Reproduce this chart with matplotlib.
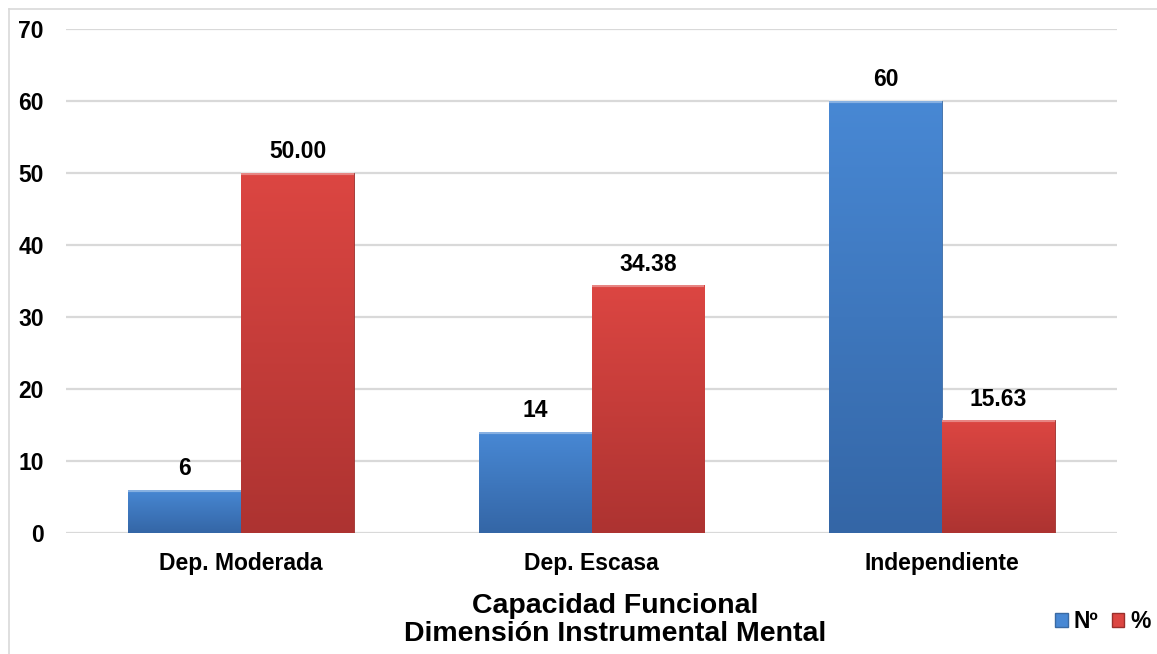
import numpy as np
import matplotlib
matplotlib.use("Agg")
import matplotlib.pyplot as plt
from matplotlib.colors import LinearSegmentedColormap
from matplotlib.patches import Patch
from matplotlib.lines import Line2D

categories = ["Dep. Moderada", "Dep. Escasa", "Independiente"]
numero = [6, 14, 60]
porcentaje = [50.00, 34.38, 15.63]
numero_labels = ["6", "14", "60"]
porcentaje_labels = ["50.00", "34.38", "15.63"]
yticks = [0, 10, 20, 30, 40, 50, 60, 70]

plt.rcParams['font.family'] = ['Liberation Sans', 'DejaVu Sans']
plt.rcParams['font.weight'] = 'bold'

W, H = 1157, 654
fig = plt.figure(figsize=(W / 100, H / 100), dpi=100)
ax = fig.add_axes([66 / W, 1 - 533 / H, (1117 - 66) / W, (533 - 29) / H])

blue_top, blue_bot = "#4888d4", "#3466a6"
red_top, red_bot = "#dc4642", "#ad3331"

x = np.arange(len(categories))
w = 0.322
b1 = ax.bar(x - w / 2, numero, w, color=blue_top, edgecolor="#3a6aa3", linewidth=0.6, zorder=3)
b2 = ax.bar(x + w / 2, porcentaje, w, color=red_top, edgecolor="#9a2f2c", linewidth=0.6, zorder=3)

# vertical gradient inside each bar
def shade(bars, top, bot):
    cmap = LinearSegmentedColormap.from_list("g", [bot, top])
    grad = np.linspace(0, 1, 256).reshape(-1, 1)
    for p in bars:
        x0, y0 = p.get_x(), p.get_y()
        im = ax.imshow(grad, cmap=cmap, aspect="auto", origin="lower",
                       extent=[x0, x0 + p.get_width(), y0, y0 + p.get_height()],
                       zorder=3.5)
        im.set_clip_path(p)
        # light bevel along the top edge
        ax.plot([x0, x0 + p.get_width()], [y0 + p.get_height()] * 2,
                color="white", alpha=0.35, lw=3, zorder=3.6, solid_capstyle="butt")

shade(b1, blue_top, blue_bot)
shade(b2, red_top, red_bot)

for bars, labels in ((b1, numero_labels), (b2, porcentaje_labels)):
    for p, lab in zip(bars, labels):
        ax.annotate(lab, (p.get_x() + p.get_width() / 2, p.get_height()),
                    xytext=(0, 7), textcoords="offset points", ha="center", va="bottom",
                    fontsize=16.5, fontweight="bold")

ax.set_xlim(-0.5, 2.5)
ax.set_ylim(0, 70)
ax.set_yticks(yticks)
ax.set_xticks(x)
ax.set_xticklabels(categories, fontsize=16.5, fontweight="bold")
ax.tick_params(axis="y", length=0, pad=16, labelsize=16.5)
ax.tick_params(axis="x", length=0, pad=14)
ax.grid(axis="y", color="#d9d9d9", lw=1.6, zorder=0)
ax.set_axisbelow(True)
for s in ax.spines.values():
    s.set_visible(False)

fig.text(615 / W, 1 - 606 / H, "Capacidad Funcional", ha="center", va="center",
         fontsize=20.5, fontweight="bold")
fig.text(615 / W, 1 - 634 / H, "Dimensión Instrumental Mental", ha="center", va="center",
         fontsize=20.5, fontweight="bold")

handles = [Patch(facecolor=blue_top, edgecolor="#3a6aa3"), Patch(facecolor=red_top, edgecolor="#9a2f2c")]
fig.legend(handles, ["Nº", "%"], loc="center left", bbox_to_anchor=(1055 / W, 1 - 622 / H),
           ncol=2, frameon=False, borderpad=0, borderaxespad=0, handlelength=0.55,
           handleheight=0.55, handletextpad=0.25, columnspacing=0.6,
           prop={"size": 16.5, "weight": "bold"})

# outer chart frame (top and left visible)
fig.add_artist(Line2D([9 / W, 1], [1 - 9 / H] * 2, color="#d9d9d9", lw=1.2))
fig.add_artist(Line2D([9 / W] * 2, [0, 1 - 9 / H], color="#d9d9d9", lw=1.2))

fig.savefig("out.png", dpi=100)
